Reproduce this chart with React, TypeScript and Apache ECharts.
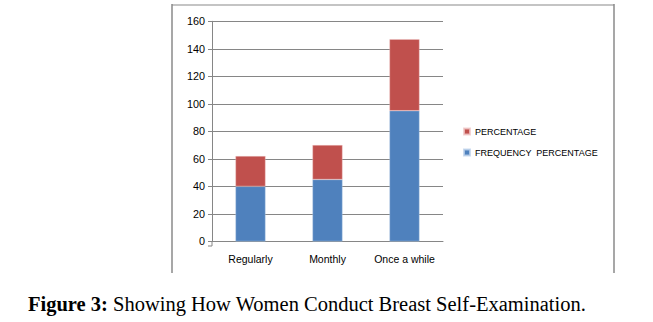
import React, { useEffect, useRef } from "react";
import * as echarts from "echarts";

const categories = ["Regularly", "Monthly", "Once a while"];
const frequencyPercentage = [40, 45, 95];
const percentage = [22, 25, 52];
const seriesNames = ["PERCENTAGE", "FREQUENCY  PERCENTAGE"];
const yTicks = { min: 0, max: 160, interval: 20 };
const captionBold = "Figure 3:";
const captionText = " Showing How Women Conduct Breast Self-Examination.";

export default function App() {
  const ref = useRef<HTMLDivElement>(null);
  useEffect(() => {
    if (!ref.current) return;
    const chart = echarts.init(ref.current, null, { renderer: "svg" });
    const font = "Liberation Sans";
    chart.setOption({
      animation: false,
      backgroundColor: "#ffffff",
      textStyle: { fontFamily: font },
      grid: { left: 212, right: 210, top: 21.3, bottom: 80.6, containLabel: false },
      legend: {
        orient: "vertical",
        left: 463,
        top: 127,
        padding: 0,
        itemWidth: 6,
        itemHeight: 6,
        itemGap: 12,
        icon: "rect",
        data: [seriesNames[0], seriesNames[1]],
        textStyle: { fontFamily: font, fontSize: 9, color: "#000" },
      },
      xAxis: {
        type: "category",
        data: categories,
        offset: 4.6,
        axisLine: { lineStyle: { color: "#868686", width: 1 } },
        axisTick: { show: false },
        axisLabel: { fontFamily: font, fontSize: 10.5, color: "#000", margin: 7, interval: 0, hideOverlap: false },
      },
      yAxis: {
        type: "value",
        min: yTicks.min,
        max: yTicks.max,
        interval: yTicks.interval,
        axisLine: { show: true, lineStyle: { color: "#868686", width: 1 } },
        axisTick: { show: true, length: 4, lineStyle: { color: "#868686" } },
        splitLine: { lineStyle: { color: "#868686", width: 1 } },
        axisLabel: { fontFamily: font, fontSize: 10.8, color: "#000", margin: 7 },
      },
      series: [
        {
          name: seriesNames[1],
          type: "bar",
          stack: "total",
          barWidth: "39%",
          data: frequencyPercentage,
          itemStyle: { color: "#4F81BD", borderColor: "rgba(190,210,235,0.8)", borderWidth: 0.5 },
        },
        {
          name: seriesNames[0],
          type: "bar",
          stack: "total",
          barWidth: "39%",
          data: percentage,
          itemStyle: { color: "#C0504D", borderColor: "rgba(240,200,200,0.8)", borderWidth: 0.5 },
        },
      ],
      graphic: [
        { type: "line", shape: { x1: 172, y1: 5, x2: 614, y2: 5 }, style: { stroke: "#c4c4c4", lineWidth: 2 } },
        { type: "line", shape: { x1: 172, y1: 4, x2: 172, y2: 273 }, style: { stroke: "#8a8a8a", lineWidth: 1.5 } },
        { type: "line", shape: { x1: 614, y1: 4, x2: 614, y2: 273 }, style: { stroke: "#8a8a8a", lineWidth: 1.5 } },
        { type: "line", shape: { x1: 212, y1: 241, x2: 212, y2: 246 }, style: { stroke: "#868686", lineWidth: 1 } },
        { type: "line", shape: { x1: 208, y1: 246, x2: 212, y2: 246 }, style: { stroke: "#868686", lineWidth: 1 } },
        {
          type: "text",
          left: 28,
          top: 293,
          style: {
            text: "{b|" + captionBold + "}{n|" + captionText + "}",
            rich: {
              b: { fontFamily: "Liberation Serif", fontSize: 20.5, fontWeight: "bold", fill: "#000" },
              n: { fontFamily: "Liberation Serif", fontSize: 20.5, fill: "#000" },
            },
          },
        },
      ],
    });
    return () => chart.dispose();
  }, []);
  return (
    <div
      ref={ref}
      style={{ position: "absolute", left: 0, top: 0, width: 653, height: 322 }}
    />
  );
}
